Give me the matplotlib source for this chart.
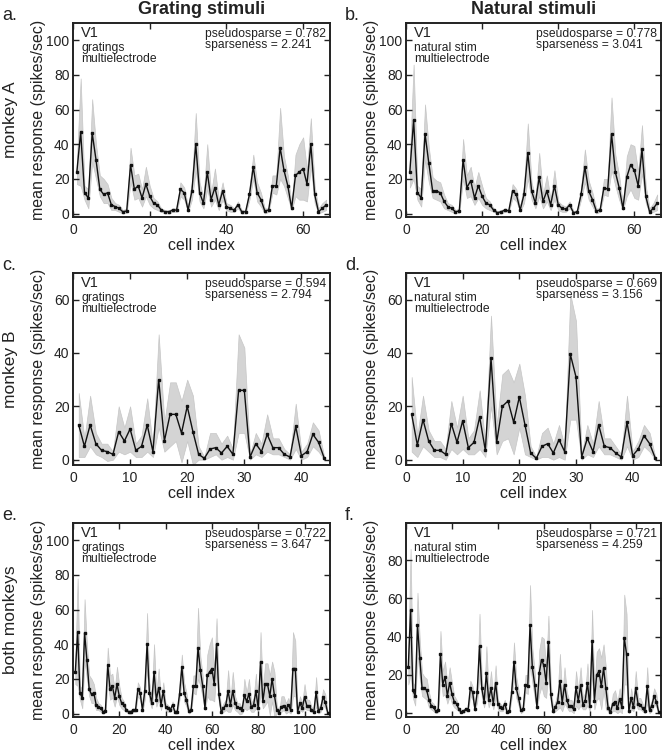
import numpy as np
import matplotlib
matplotlib.use("Agg")
import matplotlib.pyplot as plt

plt.rcParams['font.family'] = ['Liberation Sans', 'DejaVu Sans']

# ---------------- data ----------------
# Monkey A, grating stimuli (66 cells)
a_grat_mean = [24, 47, 12, 9, 46.5, 31, 14, 11, 12, 5, 4, 3, 1, 1.5, 28, 14, 16, 9, 17, 10,
               6, 5, 2, 1, 1, 2, 2, 14, 12, 2, 13, 40, 12, 6, 24, 8, 15, 5, 13, 4,
               3, 2, 5, 1, 1, 11, 27, 12, 8, 1.5, 2, 16, 16, 38, 25, 16, 3, 22, 24, 26,
               17, 40, 11, 1, 3, 5]
a_grat_lo = [17, 16, 8, 3, 30, 20, 10, 6, 6, 2, 2, 1, 0, 0.5, 18, 8, 9, 4, 10, 5,
             3, 2, 1, 0, 0, 1, 1, 10, 8, 1, 8, 25, 7, 3, 14, 4, 8, 2, 8, 2,
             1, 1, 3, 0, 0, 8, 20, 7, 4, 0, 1, 12, 11, 20, 16, 9, 2, 10, 8, 8,
             7, 27, 6, 0, 1, 2]
a_grat_hi = [30, 78, 16, 14, 66, 40, 22, 20, 17, 9, 6, 5, 2, 3, 38, 22, 23, 14, 27, 16,
             9, 7, 3, 2, 2, 3, 3, 18, 15, 4, 18, 58, 18, 9, 40, 12, 26, 8, 18, 6,
             5, 3, 7, 2, 2, 15, 34, 18, 12, 3, 3, 22, 22, 61, 33, 22, 5, 34, 40, 44,
             25, 55, 16, 3, 6, 8]

# Monkey A, natural stimuli (66 cells)
a_nat_mean = [24, 54, 12, 9, 46, 29, 13, 13, 12, 7, 4, 3, 1, 1.5, 31, 15, 19, 9, 16, 10,
              6, 5, 2, 0.5, 1, 2, 1.5, 13, 11, 2, 11, 35, 13, 6, 21, 7, 13, 5, 16, 5,
              3, 2.5, 5, 0.5, 1, 11, 27, 13, 8, 1.5, 2, 15, 14, 46, 24, 15, 3, 21, 28, 25,
              16, 37, 10, 1, 3, 6]
a_nat_lo = [15, 20, 8, 4, 31, 18, 9, 8, 7, 3, 2, 1, 0, 0.5, 20, 9, 10, 5, 9, 5,
            3, 2, 1, 0, 0, 1, 1, 9, 7, 1, 6, 20, 8, 3, 10, 3, 7, 2, 8, 2,
            1, 1, 3, 0, 0, 8, 18, 8, 4, 0, 1, 11, 10, 25, 16, 8, 2, 10, 14, 9,
            8, 23, 6, 0, 1, 2]
a_nat_hi = [32, 86, 16, 14, 63, 38, 21, 19, 18, 11, 6, 5, 2, 3, 43, 22, 27, 15, 24, 16,
            9, 7, 3, 1.5, 2, 3, 2.5, 17, 14, 4, 16, 52, 18, 9, 35, 11, 22, 8, 25, 7,
            5, 4, 7, 1.5, 2, 15, 37, 19, 12, 3, 3, 20, 20, 67, 34, 22, 5, 33, 40, 39,
            24, 51, 16, 3, 6, 11]

# Monkey B, grating stimuli (44 cells)
b_grat_mean = [13, 5, 13, 6, 3.5, 3, 2, 10.5, 7, 11.5, 3.5, 5, 13, 3, 30, 7, 17, 17, 10, 20,
               10.5, 2, 0.5, 4, 4.5, 2.5, 5, 2, 26, 26, 1, 6, 3, 9.5, 4.5, 4.5, 2, 1, 12.5, 1.5,
               3, 9.5, 6.5, 0.5]
b_grat_lo = [1, 1, 5, 2, 1, -0.5, 0, 3, 2, 3, 1, 1, 3, 1, 12, 3, 5, 7, -1, 7,
             -2, 0, 0, 1, 2, 0, 1, 0, 10, 10, 0, 2, 1, 3, 2, 2, 1, 0, 4, 0,
             1, 5, 3, 0]
b_grat_hi = [25, 8, 24, 10, 6, 6, 3, 20, 12, 20, 6, 9, 23, 5, 47, 14, 29, 29, 22, 30,
             24, 5, 1, 10, 10, 6, 9, 4, 47, 42, 2, 10, 6, 17, 8, 8, 4, 2, 21, 3,
             6, 14, 11, 1]

# Monkey B, natural stimuli (44 cells)
b_nat_mean = [17, 5.5, 15, 7, 3.5, 3.5, 2, 13.5, 6.5, 14.5, 4.5, 6.5, 16, 3.5, 38, 6.5, 20, 22, 14, 23.5,
              13, 2.5, 0.5, 5, 6, 2.5, 7.5, 3, 39.5, 31, 1, 8, 3, 13, 5, 4.5, 2.5, 1, 14, 1.5,
              4, 9, 6, 0.5]
b_nat_lo = [3, 1, 5, 3, 1, 1, 0, 4, 2, 4, 2, 2, 4, 1, 20, 2, 7, 8, 2, 12,
            2, 1, 0, 1, 1, 0, 1, 0, 15, 15, 0, 2, 1, 5, 2, 2, 1, 0, 5, 0,
            1, 5, 3, 0]
b_nat_hi = [31, 9, 24, 11, 7, 7, 4, 22, 12, 24, 8, 11, 26, 6, 54, 13, 32, 34, 29, 36,
            24, 5, 1, 10, 12, 6, 13, 5, 62, 52, 2, 13, 6, 22, 8, 8, 5, 2, 24, 3,
            7, 13, 10, 1]

stim_labels = ["gratings", "natural stim"]
pseudosparse = [[0.782, 0.778], [0.594, 0.669], [0.722, 0.721]]
sparseness = [[2.241, 3.041], [2.794, 3.156], [3.647, 4.259]]
col_titles = ["Grating stimuli", "Natural stimuli"]
row_labels = ["monkey A", "monkey B", "both monkeys"]
panel_letters = [["a.", "b."], ["c.", "d."], ["e.", "f."]]

# ---------------- figure ----------------
W, H = 665, 753
fig = plt.figure(figsize=(W / 100, H / 100), dpi=100)

col_left = [73, 406]
col_right = [330, 661]
row_top = [23, 273, 523]
row_bot = [217, 465, 717]

series = [
    [(a_grat_mean, a_grat_lo, a_grat_hi), (a_nat_mean, a_nat_lo, a_nat_hi)],
    [(b_grat_mean, b_grat_lo, b_grat_hi), (b_nat_mean, b_nat_lo, b_nat_hi)],
    [(a_grat_mean + b_grat_mean, a_grat_lo + b_grat_lo, a_grat_hi + b_grat_hi),
     (a_nat_mean + b_nat_mean, a_nat_lo + b_nat_lo, a_nat_hi + b_nat_hi)],
]
xlims = [67, 45, 111]
xticks = [[0, 20, 40, 60], [0, 10, 20, 30, 40], [0, 20, 40, 60, 80, 100]]
ylims = [[(-2, 110), (-2, 110)], [(-2, 70), (-2, 70)], [(-2, 110), (-2, 99.5)]]
yticks = [[[0, 20, 40, 60, 80, 100]] * 2, [[0, 20, 40, 60]] * 2,
          [[0, 20, 40, 60, 80, 100], [0, 20, 40, 60, 80]]]

PT = 0.72  # px -> points at dpi 100
TXT = '#222222'

for r in range(3):
    for c in range(2):
        l, rr, t, b = col_left[c], col_right[c], row_top[r], row_bot[r]
        w_px = rr - l
        ax = fig.add_axes([l / W, 1 - b / H, w_px / W, (b - t) / H])
        m, lo, hi = series[r][c]
        x = np.arange(1, len(m) + 1)
        ax.fill_between(x, lo, hi, facecolor='#d4d4d4', edgecolor='#c6c6c6', lw=0.5, zorder=1)
        ax.plot(x, m, color='#111111', lw=1.0, marker='s', ms=2.0, mec='#111111', zorder=3)
        ax.set_xlim(0, xlims[r])
        ax.set_ylim(*ylims[r][c])
        ax.set_xticks(xticks[r])
        ax.set_yticks(yticks[r][c])
        ax.tick_params(direction='in', length=4, width=1.0, top=True, right=True,
                       labelsize=10, pad=2.5, colors=TXT, labelcolor=TXT)
        ax.tick_params(axis='x', pad=4)
        for s in ax.spines.values():
            s.set_linewidth(1.4)
            s.set_color(TXT)
        ax.set_xlabel("cell index", fontsize=11.5, color=TXT, labelpad=1)
        ax.set_ylabel("mean response (spikes/sec)", fontsize=11.5, color=TXT)
        ylab_right = 46 if c == 0 else 379
        ax.yaxis.set_label_coords((ylab_right - l) / w_px, 0.5)

        ax.annotate("V1", xy=(0, 1), xycoords='axes fraction', xytext=(8 * PT, -10 * PT),
                    textcoords='offset points', ha='left', va='center', fontsize=10.5, color=TXT)
        ax.annotate(stim_labels[c] + "\nmultielectrode", xy=(0, 1), xycoords='axes fraction',
                    xytext=(8 * PT, -19 * PT), textcoords='offset points', ha='left', va='top',
                    fontsize=8.7, color=TXT, linespacing=0.85)
        ax.annotate(f"pseudosparse = {pseudosparse[r][c]:.3f}\nsparseness = {sparseness[r][c]:.3f}",
                    xy=(1, 1), xycoords='axes fraction', xytext=(-4 * PT, -5 * PT),
                    textcoords='offset points', ha='right', va='top', multialignment='left',
                    fontsize=8.7, color=TXT, linespacing=0.85)

        # panel letter
        lx = 2 if c == 0 else 345
        fig.text(lx / W, 1 - (t - 8) / H, panel_letters[r][c], fontsize=13, ha='left', va='center',
                 color=TXT)
    # row label
    fig.text(11 / W, 1 - ((row_top[r] + row_bot[r]) / 2) / H, row_labels[r], rotation=90,
             fontsize=12.5, ha='center', va='center', color=TXT)

for c in range(2):
    fig.text(((col_left[c] + col_right[c]) / 2) / W, 1 - 9 / H, col_titles[c], fontsize=13,
             fontweight='bold', ha='center', va='center', color=TXT)

fig.savefig("out.png", dpi=100)
